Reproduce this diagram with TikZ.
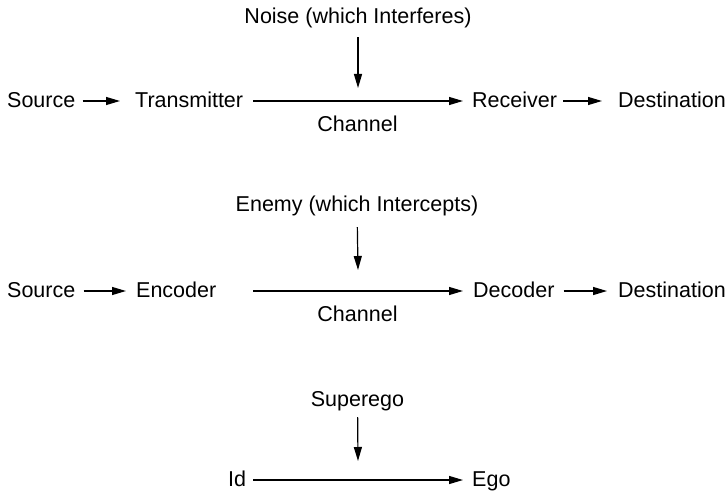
\documentclass[tikz,border=0pt]{standalone}
\usepackage{fontspec}
\setmainfont{Liberation Sans}
\usetikzlibrary{arrows.meta}
\begin{document}
\begin{tikzpicture}[x=1pt,y=-1pt,
  lbl/.style={inner sep=0pt, font=\fontsize{21.5}{24}\selectfont, text height=15pt, text depth=2.4pt, anchor=west},
  clbl/.style={lbl, anchor=center},
  arr/.style={line width=1.2pt, -{Triangle[length=14pt,width=8pt]}},
  ln/.style={line width=1.2pt}]
\useasboundingbox (0,0) rectangle (728,492);

% Row 1
\node[lbl] (src1) at (7,101) {Source};
\node[lbl] (tx1) at (135,101) {Transmitter};
\node[lbl] (rx1) at (472,101) {Receiver};
\node[lbl] (dst1) at (618,101) {Destination};
\node[clbl] (noise) at (358,17.7) {Noise (which Interferes)};
\node[clbl] (chan1) at (357.5,125.2) {Channel};
\coordinate (ch1a) at (253,101);
\coordinate (ch1b) at (463,101);
\coordinate (n1tip) at (358,88);
\draw[arr, shorten <=7pt, shorten >=15pt] (src1) -- (tx1);
\draw[arr] (ch1a) -- (ch1b);
\draw[arr, shorten <=6pt, shorten >=16pt] (rx1) -- (dst1);
\draw[arr, shorten <=10.6pt] (noise) -- (n1tip);

% Row 2
\node[lbl] (src2) at (7,291) {Source};
\node[lbl] (enc2) at (136,291) {Encoder};
\node[lbl] (dec2) at (473,291) {Decoder};
\node[lbl] (dst2) at (618,291) {Destination};
\node[clbl] (enemy) at (357,205.4) {Enemy (which Intercepts)};
\node[clbl] (chan2) at (357.5,315.4) {Channel};
\coordinate (ch2a) at (253,291);
\coordinate (ch2b) at (463,291);
\coordinate (e2tip) at (358,270);
\draw[arr, shorten <=8pt, shorten >=10pt] (src2) -- (enc2);
\draw[arr] (ch2a) -- (ch2b);
\draw[arr, shorten <=9pt, shorten >=11pt] (dec2) -- (dst2);
\draw[arr, shorten <=12.9pt] (enemy) -- (e2tip);

% Row 3
\node[lbl] (id3) at (228,480) {Id};
\node[lbl] (ego3) at (472,480) {Ego};
\node[clbl] (superego) at (357.5,400.4) {Superego};
\coordinate (s3tip) at (358,461);
\draw[arr, shorten <=7pt, shorten >=9pt] (id3) -- (ego3);
\draw[arr, shorten <=7.9pt] (superego) -- (s3tip);
\end{tikzpicture}
\end{document}
